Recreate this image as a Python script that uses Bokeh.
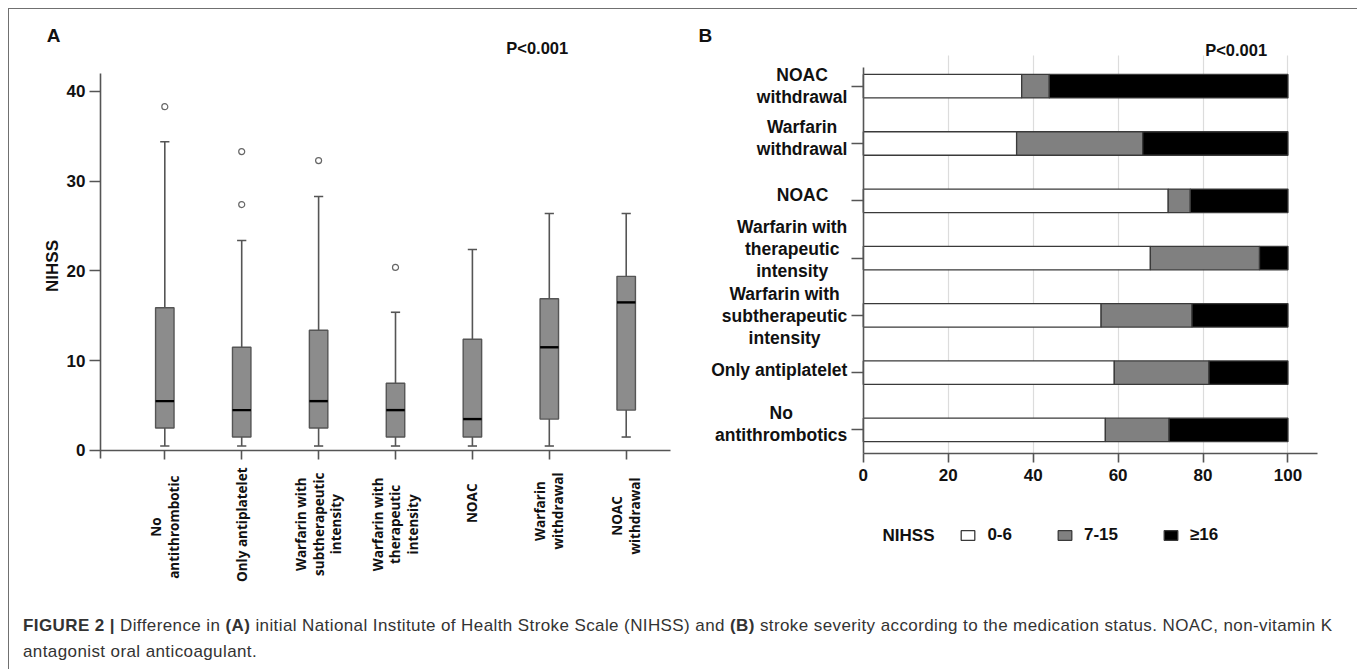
import math
from bokeh.plotting import figure
from bokeh.models import Range1d, FixedTicker, Label, Legend, LegendItem, Div, ColumnDataSource
from bokeh.layouts import row, column
from bokeh.embed import file_html
from bokeh.resources import INLINE

# ---------------- Panel A data (NIHSS box plots) ----------------
groups_a = ["No\nantithrombotic", "Only antiplatelet",
            "Warfarin with\nsubtherapeutic\nintensity",
            "Warfarin with\ntherapeutic\nintensity", "NOAC",
            "Warfarin\nwithdrawal", "NOAC\nwithdrawal"]
whisker_low = [0.5, 0.5, 0.5, 0.5, 0.5, 0.5, 1.5]
q1 = [2.5, 1.5, 2.5, 1.5, 1.5, 3.5, 4.5]
median = [5.5, 4.5, 5.5, 4.5, 3.5, 11.5, 16.5]
q3 = [15.9, 11.5, 13.4, 7.5, 12.4, 16.9, 19.4]
whisker_high = [34.4, 23.4, 28.3, 15.4, 22.4, 26.4, 26.4]
outlier_group = [0, 1, 1, 2, 3]
outlier_value = [38.3, 33.3, 27.4, 32.3, 20.4]
y_ticks_a = [0, 10, 20, 30, 40]

# ---------------- Panel B data (stroke severity, %) ----------------
groups_b = ["No\nantithrombotics", "Only antiplatelet",
            "Warfarin with\nsubtherapeutic\nintensity",
            "Warfarin with\ntherapeutic\nintensity", "NOAC",
            "Warfarin\nwithdrawal", "NOAC\nwithdrawal"]
nihss_0_6 = [57.0, 59.1, 56.0, 67.6, 71.8, 36.1, 37.3]
nihss_7_15 = [15.0, 22.3, 21.4, 25.7, 5.2, 29.7, 6.5]
nihss_16 = [28.0, 18.6, 22.6, 6.7, 23.0, 34.2, 56.2]
severity_labels = ["0-6", "7-15", "≥16"]
x_ticks_b = [0, 20, 40, 60, 80, 100]

# small per-label layout nudges (pixels), as in the original artwork
a_label_dy = [-3, 5, 0, -5, -11, 0, -5]
b_label_dy = [6, 3, -1, 9, 6, 5, 0]
b_label_dx = [0, 0, 0, 0, -19, 0, 0]

AX = "#555555"
TXT = "#111111"
ARIAL = "Liberation Sans"


def style_axis(ax, tick_out, standoff=4, size="17px"):
    ax.axis_line_color = AX
    ax.axis_line_width = 1.6
    ax.major_tick_line_color = AX
    ax.major_tick_line_width = 1.6
    ax.major_tick_out = tick_out
    ax.major_tick_in = 0
    ax.minor_tick_line_color = None
    ax.major_label_standoff = standoff
    ax.major_label_text_font = ARIAL
    ax.major_label_text_font_style = "bold"
    ax.major_label_text_font_size = size
    ax.major_label_text_color = TXT


# ================= Panel A =================
xa = list(range(len(groups_a)))
A_X0, A_X1 = -0.836, 6.576       # extent of the drawn x axis
A_YTOP = 42.0                    # top of the drawn y axis
pA = figure(width=672, height=590, x_range=Range1d(-2.0195, 6.719), y_range=Range1d(-16.6, 49.13),
            output_backend="svg", toolbar_location=None,
            min_border_left=0, min_border_right=0, min_border_top=0, min_border_bottom=0)
pA.outline_line_color = None
pA.grid.visible = False

src_a = ColumnDataSource(dict(x=xa, lo=whisker_low, q1=q1, med=median, q3=q3, hi=whisker_high))
box_w = 0.24
cap_w = 0.12
pA.segment(x0="x", y0="lo", x1="x", y1="hi", source=src_a, line_color=AX, line_width=1.6)
pA.segment(x0=[x - cap_w / 2 for x in xa], y0=whisker_high, x1=[x + cap_w / 2 for x in xa], y1=whisker_high,
           line_color=AX, line_width=1.6)
pA.segment(x0=[x - cap_w / 2 for x in xa], y0=whisker_low, x1=[x + cap_w / 2 for x in xa], y1=whisker_low,
           line_color=AX, line_width=1.6)
pA.vbar(x="x", width=box_w, bottom="q1", top="q3", source=src_a,
        fill_color="#8c8c8c", line_color=AX, line_width=1.4)
pA.segment(x0=[x - box_w / 2 for x in xa], y0=median, x1=[x + box_w / 2 for x in xa], y1=median,
           line_color="#000000", line_width=2.4)
pA.scatter(x=outlier_group, y=outlier_value, marker="circle", size=6,
           fill_color="white", line_color="#666666", line_width=1.2)

ya = pA.yaxis[0]
ya.fixed_location = A_X0
ya.bounds = (-0.9, A_YTOP)
ya.ticker = FixedTicker(ticks=y_ticks_a)
style_axis(ya, 11, 4)
ya.axis_label = "NIHSS"
ya.axis_label_text_font = ARIAL
ya.axis_label_text_font_style = "bold"
ya.axis_label_text_font_size = "17px"
ya.axis_label_text_color = TXT
ya.axis_label_standoff = 2

xa_ax = pA.xaxis[0]
xa_ax.fixed_location = 0
xa_ax.bounds = (A_X0, A_X1)
xa_ax.ticker = FixedTicker(ticks=xa)
xa_ax.major_label_overrides = {i: "" for i in xa}
style_axis(xa_ax, 9, 4)

for i, name in enumerate(groups_a):
    pA.add_layout(Label(x=xa[i], y=-2.45, y_offset=a_label_dy[i], text=name, angle=math.pi / 2,
                        anchor="center_right", text_align="center", text_font="Open Sans",
                        text_font_style="bold", text_font_size="13.5px", text_line_height=0.98,
                        text_color=TXT))

pA.add_layout(Label(x=-1.447, y=46.2, text="A", text_align="center", text_baseline="middle",
                    text_font=ARIAL, text_font_style="bold", text_font_size="19px", text_color=TXT))
pA.add_layout(Label(x=4.843, y=44.8, text="P<0.001", text_align="center", text_baseline="middle",
                    text_font=ARIAL, text_font_style="bold", text_font_size="16.5px", text_color=TXT))

# ================= Panel B =================
yb = list(range(len(groups_b)))
B_Y0, B_YTOP, B_GTOP = -0.403, 6.328, 6.537
B_X1 = 106.9
pB = figure(width=674, height=590, x_range=Range1d(-42.81, 115.9), y_range=Range1d(-2.96, 7.339),
            output_backend="svg", toolbar_location=None,
            min_border_left=0, min_border_right=0, min_border_top=0, min_border_bottom=0)
pB.outline_line_color = None
pB.ygrid.visible = False
xg = pB.xgrid[0]
xg.ticker = FixedTicker(ticks=x_ticks_b[1:])
xg.grid_line_color = "#dcdcdc"
xg.grid_line_width = 1.2
try:
    xg.cross_bounds = (B_Y0, B_GTOP)
except AttributeError:
    xg.visible = False
    pB.segment(x0=x_ticks_b[1:], y0=[B_Y0] * 5, x1=x_ticks_b[1:], y1=[B_GTOP] * 5,
               line_color="#dcdcdc", line_width=1.2)

src_b = ColumnDataSource(dict(y=yb, mild=nihss_0_6, moderate=nihss_7_15, severe=nihss_16))
rs = pB.hbar_stack(["mild", "moderate", "severe"], y="y", height=0.41, source=src_b,
                   fill_color=["#ffffff", "#808080", "#000000"], line_color="#3a3a3a", line_width=1.3)

xb_ax = pB.xaxis[0]
xb_ax.fixed_location = B_Y0
xb_ax.bounds = (0, B_X1)
xb_ax.ticker = FixedTicker(ticks=x_ticks_b)
style_axis(xb_ax, 9, 7)

yb_ax = pB.yaxis[0]
yb_ax.fixed_location = 0
yb_ax.bounds = (B_Y0, B_YTOP)
yb_ax.ticker = FixedTicker(ticks=yb)
yb_ax.major_label_overrides = {i: "" for i in yb}
style_axis(yb_ax, 12, 4)

for i, name in enumerate(groups_b):
    pB.add_layout(Label(x=0, y=yb[i], x_offset=-16 + b_label_dx[i], y_offset=b_label_dy[i], text=name,
                        anchor="center_right", text_align="center", text_font=ARIAL,
                        text_font_style="bold", text_font_size="17.5px", text_line_height=1.1,
                        text_color=TXT))

pB.add_layout(Label(x=-37.2, y=6.883, text="B", text_align="center", text_baseline="middle",
                    text_font=ARIAL, text_font_style="bold", text_font_size="19px", text_color=TXT))
pB.add_layout(Label(x=87.8, y=6.627, text="P<0.001", text_align="center", text_baseline="middle",
                    text_font=ARIAL, text_font_style="bold", text_font_size="16.5px", text_color=TXT))
pB.add_layout(Label(x=10.64, y=-1.838, text="NIHSS", text_align="center", text_baseline="middle",
                    text_font=ARIAL, text_font_style="bold", text_font_size="17px", text_color=TXT))

legend = Legend(items=[LegendItem(label=severity_labels[k], renderers=[rs[k]]) for k in range(3)],
                orientation="horizontal", location=(278.4, 54.3), padding=0, margin=0,
                spacing=44, label_standoff=11, glyph_width=17, glyph_height=12,
                border_line_alpha=0, background_fill_alpha=0,
                label_text_font=ARIAL, label_text_font_style="bold",
                label_text_font_size="17px", label_text_color=TXT)
pB.add_layout(legend)

# ================= Caption =================
caption = Div(
    text=('<div style="margin:9px 0 0 9px; font-family:\'Liberation Sans\', Arial, sans-serif; '
          'font-size:17px; letter-spacing:0.4px; line-height:26px; color:#333; white-space:nowrap;">'
          '<b>FIGURE 2 |</b> Difference in <b>(A)</b> initial National Institute of Health Stroke Scale '
          '(NIHSS) and <b>(B)</b> stroke severity according to the medication status. NOAC, non-vitamin K'
          '<br>antagonist oral anticoagulant.</div>'),
    width=1346, height=60)

layout = column(row(pA, pB), caption, margin=(8, 0, 0, 8),
                styles={"border-top": "1px solid #707070", "border-left": "1px solid #707070",
                        "border-right": "1px solid #707070"})

open("out.html", "w").write(file_html(layout, INLINE))
